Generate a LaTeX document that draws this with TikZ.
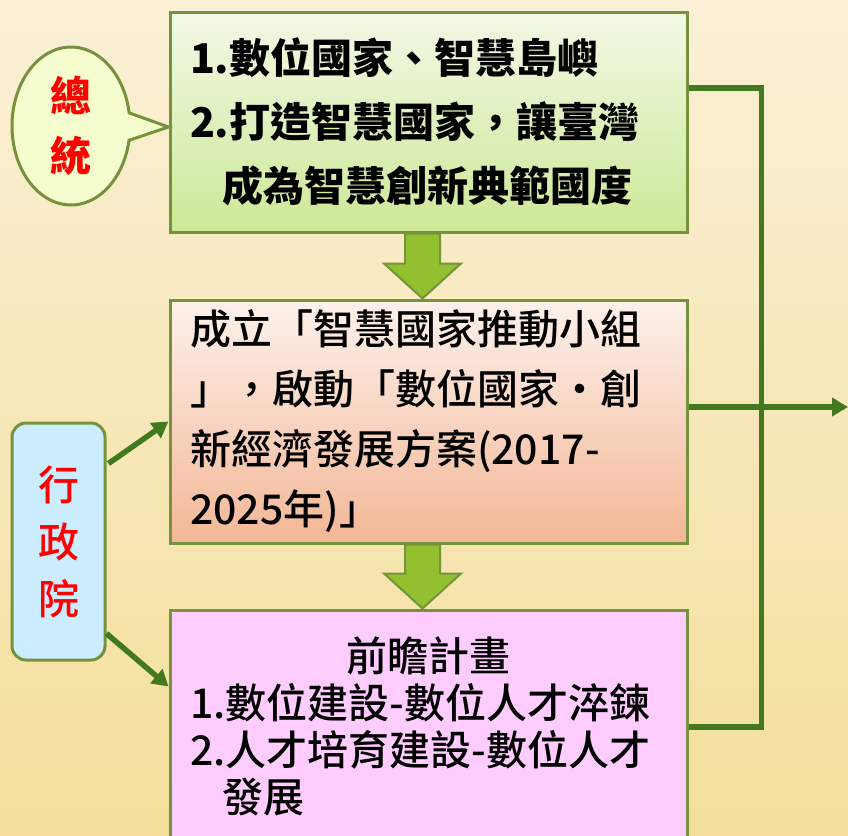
\documentclass[tikz,border=0pt]{standalone}
\usepackage{fontspec}
\newfontfamily\tcfont{Noto Sans CJK TC}
\newfontfamily\tcmed{Noto Sans CJK TC Medium}
\usetikzlibrary{shapes.callouts,arrows.meta,calc}
\definecolor{bgTop}{RGB}{251,240,214}
\definecolor{bgBot}{RGB}{243,223,155}
\definecolor{olive}{RGB}{118,146,60}
\definecolor{lineGreen}{RGB}{66,120,30}
\definecolor{arrowFill}{RGB}{146,192,46}
\definecolor{gTop}{RGB}{242,249,230}
\definecolor{gBot}{RGB}{205,232,150}
\definecolor{oTop}{RGB}{253,241,235}
\definecolor{oBot}{RGB}{243,183,150}
\definecolor{planPink}{RGB}{255,204,255}
\definecolor{callFill}{RGB}{245,252,205}
\definecolor{execBlue}{RGB}{204,236,255}
\pgfdeclarelayer{back}
\pgfsetlayers{back,main}

\begin{document}
\begin{tikzpicture}[x=1pt,y=-1pt,
	box/.style={draw=olive,line width=3pt,inner xsep=20pt,inner ysep=8pt,text width=477pt,align=left},
	link/.style={draw=lineGreen,line width=5.5pt},
	tip/.style={-{Triangle[length=16pt,width=18pt]}},
	blockarrow/.style={draw=olive,line width=2pt,fill=arrowFill,line join=miter}]
	\useasboundingbox (0,0) rectangle (848,835);
	% boxes
	\node[box,top color=gTop,bottom color=gBot,minimum height=220pt,
		font=\tcfont\bfseries\fontsize{41pt}{64pt}\selectfont] (goal) at (428.5,122)
		{1.數位國家、智慧島嶼\\2.打造智慧國家，讓臺灣\\\hspace*{32pt}成為智慧創新典範國度};
	\node[box,top color=oTop,bottom color=oBot,minimum height=243pt,
		font=\tcmed\fontsize{41pt}{60pt}\selectfont] (plan) at (428.5,421.5)
		{成立「智慧國家推動小組\\」，啟動「數位國家・創\\新經濟發展方案(2017-\\2025年)」};
	\node[box,fill=planPink,minimum height=232pt,
		font=\tcmed\fontsize{41pt}{47pt}\selectfont] (forward) at (428.5,726)
		{\hspace*{\fill}前瞻計畫\hspace*{\fill}\null\\1.數位建設-數位人才淬鍊\\2.人才培育建設-數位人才\\\hspace*{32pt}發展};
	% who
	\node[ellipse callout,draw=olive,line width=3pt,fill=callFill,
		callout absolute pointer={($(goal.west)+(0,5)$)},callout pointer arc=20,
		minimum width=118pt,minimum height=158pt,inner sep=0pt,align=center,text=red,
		font=\tcfont\bfseries\fontsize{41pt}{60pt}\selectfont] (pres) at (71,126) {總\\統};
	\node[draw=olive,line width=3pt,rounded corners=14pt,fill=execBlue,
		minimum width=93pt,minimum height=237pt,inner sep=0pt,align=center,text=red,
		font=\tcmed\fontsize{41pt}{57pt}\selectfont] (exec) at (58.5,541.5) {行\\政\\院};
	% connectors
	\draw[link,tip] ($(exec.north east)+(2,42)$) -- (plan.west);
	\draw[link,tip] ($(exec.south east)+(0,-28)$) -- ($(forward.north west)+(0,78)$);
	\draw[link] ($(goal.east)+(0,-34)$) -| ($(forward.east)+(73,1)$) -- ($(forward.east)+(0,1)$);
	\coordinate (out) at (848,407);
	\draw[link,tip] ($(plan.east)+(0,-14.5)$) -- (out);
	\begin{pgfonlayer}{back}
		\shade[top color=bgTop,bottom color=bgBot] (0,0) rectangle (848,835);
		\foreach \a/\b in {goal/plan,plan/forward}{
			\draw[blockarrow] ($(\b.north)+(-6,0)$) coordinate (t) -- ++(38.5,-35) -- ++(-21,0)
				|- ($(\a.south)+(-6,0)$) -| ($(t)+(-17.5,-35)$) -- ++(-21,0) -- cycle;}
	\end{pgfonlayer}
\end{tikzpicture}
\end{document}
